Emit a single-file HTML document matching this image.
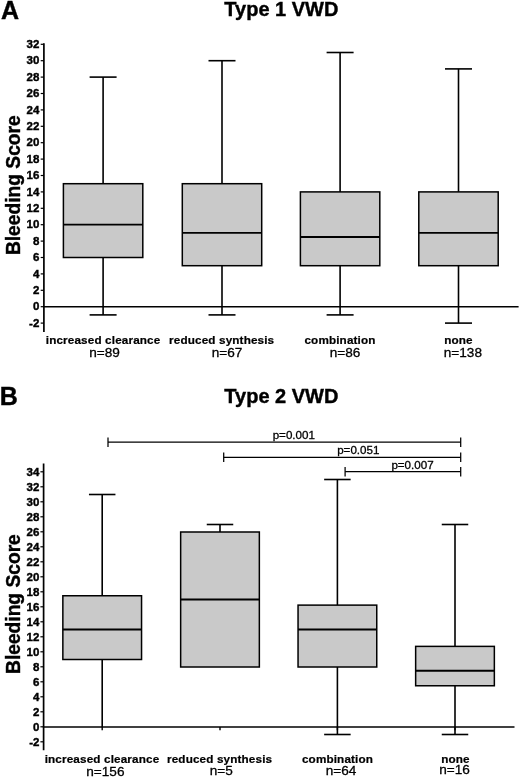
<!DOCTYPE html>
<html><head><meta charset="utf-8"><title>Bleeding Score by VWD type</title>
<style>
html,body{margin:0;padding:0;background:#fff;}
svg{display:block;will-change:transform;font-family:"Liberation Sans",sans-serif;fill:#000;}
</style></head><body>
<svg width="520" height="778" viewBox="0 0 520 778">
<rect x="0" y="0" width="520" height="778" fill="#fff" stroke="none"/>
<line x1="103.10" y1="77.10" x2="103.10" y2="183.70" stroke="#000" stroke-width="1.6"/>
<line x1="89.60" y1="77.10" x2="116.60" y2="77.10" stroke="#000" stroke-width="1.6"/>
<line x1="103.10" y1="257.50" x2="103.10" y2="314.90" stroke="#000" stroke-width="1.6"/>
<line x1="89.60" y1="314.90" x2="116.60" y2="314.90" stroke="#000" stroke-width="1.6"/>
<rect x="63.40" y="183.70" width="79.40" height="73.80" fill="#c9c9c9" stroke="#000" stroke-width="1.5"/>
<line x1="63.40" y1="224.70" x2="142.80" y2="224.70" stroke="#000" stroke-width="1.8"/>
<line x1="222.00" y1="60.70" x2="222.00" y2="183.70" stroke="#000" stroke-width="1.6"/>
<line x1="208.50" y1="60.70" x2="235.50" y2="60.70" stroke="#000" stroke-width="1.6"/>
<line x1="222.00" y1="265.70" x2="222.00" y2="314.90" stroke="#000" stroke-width="1.6"/>
<line x1="208.50" y1="314.90" x2="235.50" y2="314.90" stroke="#000" stroke-width="1.6"/>
<rect x="182.30" y="183.70" width="79.40" height="82.00" fill="#c9c9c9" stroke="#000" stroke-width="1.5"/>
<line x1="182.30" y1="232.90" x2="261.70" y2="232.90" stroke="#000" stroke-width="1.8"/>
<line x1="340.10" y1="52.50" x2="340.10" y2="191.90" stroke="#000" stroke-width="1.6"/>
<line x1="326.60" y1="52.50" x2="353.60" y2="52.50" stroke="#000" stroke-width="1.6"/>
<line x1="340.10" y1="265.70" x2="340.10" y2="314.90" stroke="#000" stroke-width="1.6"/>
<line x1="326.60" y1="314.90" x2="353.60" y2="314.90" stroke="#000" stroke-width="1.6"/>
<rect x="300.40" y="191.90" width="79.40" height="73.80" fill="#c9c9c9" stroke="#000" stroke-width="1.5"/>
<line x1="300.40" y1="237.00" x2="379.80" y2="237.00" stroke="#000" stroke-width="1.8"/>
<line x1="458.50" y1="68.90" x2="458.50" y2="191.90" stroke="#000" stroke-width="1.6"/>
<line x1="445.00" y1="68.90" x2="472.00" y2="68.90" stroke="#000" stroke-width="1.6"/>
<line x1="458.50" y1="265.70" x2="458.50" y2="323.10" stroke="#000" stroke-width="1.6"/>
<line x1="445.00" y1="323.10" x2="472.00" y2="323.10" stroke="#000" stroke-width="1.6"/>
<rect x="418.80" y="191.90" width="79.40" height="73.80" fill="#c9c9c9" stroke="#000" stroke-width="1.5"/>
<line x1="418.80" y1="232.90" x2="498.20" y2="232.90" stroke="#000" stroke-width="1.8"/>
<line x1="43.90" y1="43.20" x2="43.90" y2="332.00" stroke="#000" stroke-width="1.7"/>
<line x1="43.10" y1="306.70" x2="518.60" y2="306.70" stroke="#000" stroke-width="1.6"/>
<line x1="40.70" y1="44.30" x2="43.90" y2="44.30" stroke="#000" stroke-width="1.2"/>
<text x="39.30" y="48.00" font-size="11.5" font-weight="700" stroke="#000" stroke-width="0.4" text-anchor="end">32</text>
<line x1="40.70" y1="60.70" x2="43.90" y2="60.70" stroke="#000" stroke-width="1.2"/>
<text x="39.30" y="64.40" font-size="11.5" font-weight="700" stroke="#000" stroke-width="0.4" text-anchor="end">30</text>
<line x1="40.70" y1="77.10" x2="43.90" y2="77.10" stroke="#000" stroke-width="1.2"/>
<text x="39.30" y="80.80" font-size="11.5" font-weight="700" stroke="#000" stroke-width="0.4" text-anchor="end">28</text>
<line x1="40.70" y1="93.50" x2="43.90" y2="93.50" stroke="#000" stroke-width="1.2"/>
<text x="39.30" y="97.20" font-size="11.5" font-weight="700" stroke="#000" stroke-width="0.4" text-anchor="end">26</text>
<line x1="40.70" y1="109.90" x2="43.90" y2="109.90" stroke="#000" stroke-width="1.2"/>
<text x="39.30" y="113.60" font-size="11.5" font-weight="700" stroke="#000" stroke-width="0.4" text-anchor="end">24</text>
<line x1="40.70" y1="126.30" x2="43.90" y2="126.30" stroke="#000" stroke-width="1.2"/>
<text x="39.30" y="130.00" font-size="11.5" font-weight="700" stroke="#000" stroke-width="0.4" text-anchor="end">22</text>
<line x1="40.70" y1="142.70" x2="43.90" y2="142.70" stroke="#000" stroke-width="1.2"/>
<text x="39.30" y="146.40" font-size="11.5" font-weight="700" stroke="#000" stroke-width="0.4" text-anchor="end">20</text>
<line x1="40.70" y1="159.10" x2="43.90" y2="159.10" stroke="#000" stroke-width="1.2"/>
<text x="39.30" y="162.80" font-size="11.5" font-weight="700" stroke="#000" stroke-width="0.4" text-anchor="end">18</text>
<line x1="40.70" y1="175.50" x2="43.90" y2="175.50" stroke="#000" stroke-width="1.2"/>
<text x="39.30" y="179.20" font-size="11.5" font-weight="700" stroke="#000" stroke-width="0.4" text-anchor="end">16</text>
<line x1="40.70" y1="191.90" x2="43.90" y2="191.90" stroke="#000" stroke-width="1.2"/>
<text x="39.30" y="195.60" font-size="11.5" font-weight="700" stroke="#000" stroke-width="0.4" text-anchor="end">14</text>
<line x1="40.70" y1="208.30" x2="43.90" y2="208.30" stroke="#000" stroke-width="1.2"/>
<text x="39.30" y="212.00" font-size="11.5" font-weight="700" stroke="#000" stroke-width="0.4" text-anchor="end">12</text>
<line x1="40.70" y1="224.70" x2="43.90" y2="224.70" stroke="#000" stroke-width="1.2"/>
<text x="39.30" y="228.40" font-size="11.5" font-weight="700" stroke="#000" stroke-width="0.4" text-anchor="end">10</text>
<line x1="40.70" y1="241.10" x2="43.90" y2="241.10" stroke="#000" stroke-width="1.2"/>
<text x="39.30" y="244.80" font-size="11.5" font-weight="700" stroke="#000" stroke-width="0.4" text-anchor="end">8</text>
<line x1="40.70" y1="257.50" x2="43.90" y2="257.50" stroke="#000" stroke-width="1.2"/>
<text x="39.30" y="261.20" font-size="11.5" font-weight="700" stroke="#000" stroke-width="0.4" text-anchor="end">6</text>
<line x1="40.70" y1="273.90" x2="43.90" y2="273.90" stroke="#000" stroke-width="1.2"/>
<text x="39.30" y="277.60" font-size="11.5" font-weight="700" stroke="#000" stroke-width="0.4" text-anchor="end">4</text>
<line x1="40.70" y1="290.30" x2="43.90" y2="290.30" stroke="#000" stroke-width="1.2"/>
<text x="39.30" y="294.00" font-size="11.5" font-weight="700" stroke="#000" stroke-width="0.4" text-anchor="end">2</text>
<line x1="40.70" y1="306.70" x2="43.90" y2="306.70" stroke="#000" stroke-width="1.2"/>
<text x="39.30" y="310.40" font-size="11.5" font-weight="700" stroke="#000" stroke-width="0.4" text-anchor="end">0</text>
<line x1="40.70" y1="323.10" x2="43.90" y2="323.10" stroke="#000" stroke-width="1.2"/>
<text x="39.30" y="326.80" font-size="11.5" font-weight="700" stroke="#000" stroke-width="0.4" text-anchor="end">-2</text>
<text x="1.10" y="19.10" font-size="25" font-weight="700" stroke="#000" stroke-width="0.4" text-anchor="start">A</text>
<text x="281.40" y="15.70" font-size="20" font-weight="700" stroke="#000" stroke-width="0.4" text-anchor="middle">Type 1 VWD</text>
<text transform="translate(20.3,185.2) rotate(-90) scale(0.99,1)" font-size="19.4" font-weight="700" stroke="#000" stroke-width="0.4" text-anchor="middle">Bleeding Score</text>
<text x="103.10" y="343.50" font-size="11.7" font-weight="700" stroke="#000" stroke-width="0.22" text-anchor="middle" letter-spacing="0.15">increased clearance</text>
<text x="104.50" y="357.40" font-size="13.6" stroke="#000" stroke-width="0.3" text-anchor="middle">n=89</text>
<text x="221.70" y="343.50" font-size="11.7" font-weight="700" stroke="#000" stroke-width="0.22" text-anchor="middle" letter-spacing="0.15">reduced synthesis</text>
<text x="227.00" y="357.20" font-size="13.6" stroke="#000" stroke-width="0.3" text-anchor="middle">n=67</text>
<text x="340.00" y="343.50" font-size="11.7" font-weight="700" stroke="#000" stroke-width="0.22" text-anchor="middle" letter-spacing="0.15">combination</text>
<text x="345.00" y="357.20" font-size="13.6" stroke="#000" stroke-width="0.3" text-anchor="middle">n=86</text>
<text x="458.50" y="343.50" font-size="11.7" font-weight="700" stroke="#000" stroke-width="0.22" text-anchor="middle" letter-spacing="0.15">none</text>
<text x="462.90" y="356.80" font-size="13.6" stroke="#000" stroke-width="0.3" text-anchor="middle">n=138</text>
<line x1="102.20" y1="494.50" x2="102.20" y2="595.75" stroke="#000" stroke-width="1.6"/>
<line x1="88.95" y1="494.50" x2="115.45" y2="494.50" stroke="#000" stroke-width="1.6"/>
<line x1="102.20" y1="659.50" x2="102.20" y2="727.00" stroke="#000" stroke-width="1.6"/>
<rect x="62.85" y="595.75" width="78.70" height="63.75" fill="#c9c9c9" stroke="#000" stroke-width="1.5"/>
<line x1="62.85" y1="629.50" x2="141.55" y2="629.50" stroke="#000" stroke-width="1.8"/>
<line x1="220.00" y1="524.50" x2="220.00" y2="532.00" stroke="#000" stroke-width="1.6"/>
<line x1="206.75" y1="524.50" x2="233.25" y2="524.50" stroke="#000" stroke-width="1.6"/>
<rect x="180.65" y="532.00" width="78.70" height="135.00" fill="#c9c9c9" stroke="#000" stroke-width="1.5"/>
<line x1="180.65" y1="599.50" x2="259.35" y2="599.50" stroke="#000" stroke-width="1.8"/>
<line x1="337.40" y1="479.50" x2="337.40" y2="605.12" stroke="#000" stroke-width="1.6"/>
<line x1="324.15" y1="479.50" x2="350.65" y2="479.50" stroke="#000" stroke-width="1.6"/>
<line x1="337.40" y1="667.00" x2="337.40" y2="734.50" stroke="#000" stroke-width="1.6"/>
<line x1="324.15" y1="734.50" x2="350.65" y2="734.50" stroke="#000" stroke-width="1.6"/>
<rect x="298.05" y="605.12" width="78.70" height="61.88" fill="#c9c9c9" stroke="#000" stroke-width="1.5"/>
<line x1="298.05" y1="629.50" x2="376.75" y2="629.50" stroke="#000" stroke-width="1.8"/>
<line x1="455.00" y1="524.50" x2="455.00" y2="646.38" stroke="#000" stroke-width="1.6"/>
<line x1="441.75" y1="524.50" x2="468.25" y2="524.50" stroke="#000" stroke-width="1.6"/>
<line x1="455.00" y1="685.75" x2="455.00" y2="734.50" stroke="#000" stroke-width="1.6"/>
<line x1="441.75" y1="734.50" x2="468.25" y2="734.50" stroke="#000" stroke-width="1.6"/>
<rect x="415.65" y="646.38" width="78.70" height="39.38" fill="#c9c9c9" stroke="#000" stroke-width="1.5"/>
<line x1="415.65" y1="670.75" x2="494.35" y2="670.75" stroke="#000" stroke-width="1.8"/>
<line x1="43.60" y1="463.40" x2="43.60" y2="750.20" stroke="#000" stroke-width="1.7"/>
<line x1="42.80" y1="727.00" x2="514.50" y2="727.00" stroke="#000" stroke-width="1.6"/>
<line x1="102.20" y1="727.00" x2="102.20" y2="730.20" stroke="#000" stroke-width="1.4"/>
<line x1="220.00" y1="727.00" x2="220.00" y2="730.20" stroke="#000" stroke-width="1.4"/>
<line x1="337.40" y1="727.00" x2="337.40" y2="730.20" stroke="#000" stroke-width="1.4"/>
<line x1="455.00" y1="727.00" x2="455.00" y2="730.20" stroke="#000" stroke-width="1.4"/>
<line x1="40.40" y1="471.80" x2="43.60" y2="471.80" stroke="#000" stroke-width="1.2"/>
<text x="39.40" y="475.50" font-size="11.5" font-weight="700" stroke="#000" stroke-width="0.4" text-anchor="end">34</text>
<line x1="40.40" y1="486.80" x2="43.60" y2="486.80" stroke="#000" stroke-width="1.2"/>
<text x="39.40" y="490.50" font-size="11.5" font-weight="700" stroke="#000" stroke-width="0.4" text-anchor="end">32</text>
<line x1="40.40" y1="501.80" x2="43.60" y2="501.80" stroke="#000" stroke-width="1.2"/>
<text x="39.40" y="505.50" font-size="11.5" font-weight="700" stroke="#000" stroke-width="0.4" text-anchor="end">30</text>
<line x1="40.40" y1="516.80" x2="43.60" y2="516.80" stroke="#000" stroke-width="1.2"/>
<text x="39.40" y="520.50" font-size="11.5" font-weight="700" stroke="#000" stroke-width="0.4" text-anchor="end">28</text>
<line x1="40.40" y1="531.80" x2="43.60" y2="531.80" stroke="#000" stroke-width="1.2"/>
<text x="39.40" y="535.50" font-size="11.5" font-weight="700" stroke="#000" stroke-width="0.4" text-anchor="end">26</text>
<line x1="40.40" y1="546.80" x2="43.60" y2="546.80" stroke="#000" stroke-width="1.2"/>
<text x="39.40" y="550.50" font-size="11.5" font-weight="700" stroke="#000" stroke-width="0.4" text-anchor="end">24</text>
<line x1="40.40" y1="561.80" x2="43.60" y2="561.80" stroke="#000" stroke-width="1.2"/>
<text x="39.40" y="565.50" font-size="11.5" font-weight="700" stroke="#000" stroke-width="0.4" text-anchor="end">22</text>
<line x1="40.40" y1="576.80" x2="43.60" y2="576.80" stroke="#000" stroke-width="1.2"/>
<text x="39.40" y="580.50" font-size="11.5" font-weight="700" stroke="#000" stroke-width="0.4" text-anchor="end">20</text>
<line x1="40.40" y1="591.80" x2="43.60" y2="591.80" stroke="#000" stroke-width="1.2"/>
<text x="39.40" y="595.50" font-size="11.5" font-weight="700" stroke="#000" stroke-width="0.4" text-anchor="end">18</text>
<line x1="40.40" y1="606.80" x2="43.60" y2="606.80" stroke="#000" stroke-width="1.2"/>
<text x="39.40" y="610.50" font-size="11.5" font-weight="700" stroke="#000" stroke-width="0.4" text-anchor="end">16</text>
<line x1="40.40" y1="621.80" x2="43.60" y2="621.80" stroke="#000" stroke-width="1.2"/>
<text x="39.40" y="625.50" font-size="11.5" font-weight="700" stroke="#000" stroke-width="0.4" text-anchor="end">14</text>
<line x1="40.40" y1="636.80" x2="43.60" y2="636.80" stroke="#000" stroke-width="1.2"/>
<text x="39.40" y="640.50" font-size="11.5" font-weight="700" stroke="#000" stroke-width="0.4" text-anchor="end">12</text>
<line x1="40.40" y1="651.80" x2="43.60" y2="651.80" stroke="#000" stroke-width="1.2"/>
<text x="39.40" y="655.50" font-size="11.5" font-weight="700" stroke="#000" stroke-width="0.4" text-anchor="end">10</text>
<line x1="40.40" y1="666.80" x2="43.60" y2="666.80" stroke="#000" stroke-width="1.2"/>
<text x="39.40" y="670.50" font-size="11.5" font-weight="700" stroke="#000" stroke-width="0.4" text-anchor="end">8</text>
<line x1="40.40" y1="681.80" x2="43.60" y2="681.80" stroke="#000" stroke-width="1.2"/>
<text x="39.40" y="685.50" font-size="11.5" font-weight="700" stroke="#000" stroke-width="0.4" text-anchor="end">6</text>
<line x1="40.40" y1="696.80" x2="43.60" y2="696.80" stroke="#000" stroke-width="1.2"/>
<text x="39.40" y="700.50" font-size="11.5" font-weight="700" stroke="#000" stroke-width="0.4" text-anchor="end">4</text>
<line x1="40.40" y1="711.80" x2="43.60" y2="711.80" stroke="#000" stroke-width="1.2"/>
<text x="39.40" y="715.50" font-size="11.5" font-weight="700" stroke="#000" stroke-width="0.4" text-anchor="end">2</text>
<line x1="40.40" y1="726.80" x2="43.60" y2="726.80" stroke="#000" stroke-width="1.2"/>
<text x="39.40" y="730.50" font-size="11.5" font-weight="700" stroke="#000" stroke-width="0.4" text-anchor="end">0</text>
<line x1="40.40" y1="741.80" x2="43.60" y2="741.80" stroke="#000" stroke-width="1.2"/>
<text x="39.40" y="745.50" font-size="11.5" font-weight="700" stroke="#000" stroke-width="0.4" text-anchor="end">-2</text>
<text x="-0.30" y="404.90" font-size="25" font-weight="700" stroke="#000" stroke-width="0.4" text-anchor="start">B</text>
<text x="281.40" y="403.00" font-size="20" font-weight="700" stroke="#000" stroke-width="0.4" text-anchor="middle">Type 2 VWD</text>
<text transform="translate(20.0,604.1) rotate(-90) scale(0.99,1)" font-size="19.4" font-weight="700" stroke="#000" stroke-width="0.4" text-anchor="middle">Bleeding Score</text>
<text x="102.00" y="762.60" font-size="11.7" font-weight="700" stroke="#000" stroke-width="0.22" text-anchor="middle" letter-spacing="0.15">increased clearance</text>
<text x="105.40" y="776.00" font-size="13.6" stroke="#000" stroke-width="0.3" text-anchor="middle">n=156</text>
<text x="219.60" y="762.60" font-size="11.7" font-weight="700" stroke="#000" stroke-width="0.22" text-anchor="middle" letter-spacing="0.15">reduced synthesis</text>
<text x="221.25" y="775.30" font-size="13.6" stroke="#000" stroke-width="0.3" text-anchor="middle">n=5</text>
<text x="337.50" y="762.60" font-size="11.7" font-weight="700" stroke="#000" stroke-width="0.22" text-anchor="middle" letter-spacing="0.15">combination</text>
<text x="341.00" y="775.10" font-size="13.6" stroke="#000" stroke-width="0.3" text-anchor="middle">n=64</text>
<text x="455.40" y="762.60" font-size="11.7" font-weight="700" stroke="#000" stroke-width="0.22" text-anchor="middle" letter-spacing="0.15">none</text>
<text x="454.50" y="774.00" font-size="13.6" stroke="#000" stroke-width="0.3" text-anchor="middle">n=16</text>
<line x1="108.00" y1="442.20" x2="460.70" y2="442.20" stroke="#000" stroke-width="1.25"/>
<line x1="108.00" y1="437.50" x2="108.00" y2="446.90" stroke="#000" stroke-width="1.25"/>
<line x1="460.70" y1="437.50" x2="460.70" y2="446.90" stroke="#000" stroke-width="1.25"/>
<text x="293.80" y="438.50" font-size="11.6" stroke="#000" stroke-width="0.3" text-anchor="middle">p=0.001</text>
<line x1="223.70" y1="457.30" x2="460.70" y2="457.30" stroke="#000" stroke-width="1.25"/>
<line x1="223.70" y1="452.60" x2="223.70" y2="462.00" stroke="#000" stroke-width="1.25"/>
<line x1="460.70" y1="452.60" x2="460.70" y2="462.00" stroke="#000" stroke-width="1.25"/>
<text x="358.30" y="453.80" font-size="11.6" stroke="#000" stroke-width="0.3" text-anchor="middle">p=0.051</text>
<line x1="345.10" y1="471.70" x2="460.70" y2="471.70" stroke="#000" stroke-width="1.25"/>
<line x1="345.10" y1="467.00" x2="345.10" y2="476.40" stroke="#000" stroke-width="1.25"/>
<line x1="460.70" y1="467.00" x2="460.70" y2="476.40" stroke="#000" stroke-width="1.25"/>
<text x="412.50" y="469.40" font-size="11.6" stroke="#000" stroke-width="0.3" text-anchor="middle">p=0.007</text>
</svg>
</body></html>
